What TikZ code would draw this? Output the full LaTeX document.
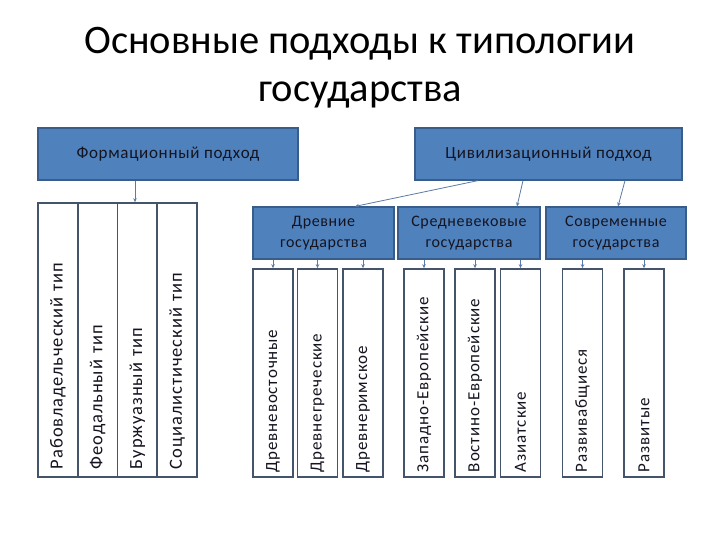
\documentclass[tikz,border=0pt]{standalone}
\usepackage{fontspec}
\setmainfont{Carlito}
\usetikzlibrary{arrows.meta}
\definecolor{boxfill}{HTML}{4F81BD}
\definecolor{boxline}{HTML}{385D8A}
\definecolor{colline}{HTML}{44546A}
\definecolor{arrcol}{HTML}{5B7BA6}
\definecolor{txt}{HTML}{141420}
\tikzset{
  hdr/.style={draw=boxline, line width=1.2pt, fill=boxfill, text=txt, inner sep=2pt,
    font=\fontsize{16}{21}\selectfont\addfontfeatures{LetterSpace=4}, align=center},
  tophdr/.style={hdr, font=\fontsize{17}{21}\selectfont\addfontfeatures{LetterSpace=4}},
  colbox/.style={draw=colline, line width=1.6pt, fill=white, rotate=90, text=txt,
    inner xsep=5pt, align=left,
    font=\fontsize{17}{20}\selectfont\addfontfeatures{LetterSpace=5}},
  fcolbox/.style={colbox, inner xsep=8pt,
    font=\fontsize{18.5}{22}\selectfont\addfontfeatures{LetterSpace=5}},
  arr/.style={draw=arrcol, line width=0.8pt, -{Stealth[length=4pt,width=3.5pt]}}
}
\begin{document}
\begin{tikzpicture}[x=1pt,y=-1pt]
\useasboundingbox[fill=white] (0,0) rectangle (720,540);
% title
\node[font=\fontsize{40.5}{48}\selectfont, align=center] (title) at (360,68)
  {Основные подходы к типологии\\государства};
% top headers
\node[tophdr, minimum width=260pt, minimum height=52pt] (form) at (168,154) {\raisebox{-2pt}{Формационный подход}};
\node[tophdr, minimum width=267pt, minimum height=52pt] (civ) at (548.5,154) {\raisebox{-2pt}{Цивилизационный подход}};
% formation columns (top 203, bottom 477)
\node[fcolbox, minimum width=274pt, minimum height=39.75pt, text width=258pt] (f1) at (57.9,340) {Рабовладельческий тип};
\node[fcolbox, minimum width=274pt, minimum height=39.75pt, text width=258pt] (f2) at (97.6,340) {Феодальный тип};
\node[fcolbox, minimum width=274pt, minimum height=39.75pt, text width=258pt] (f3) at (137.4,340) {Буржуазный тип};
\node[fcolbox, minimum width=274pt, minimum height=39.75pt, text width=258pt] (f4) at (177.1,340) {Социалистический тип};
% group headers
\node[hdr, minimum width=141pt, minimum height=52pt] (anc) at (323.5,233) {Древние\\государства};
\node[hdr, minimum width=142pt, minimum height=52pt] (med) at (469,233) {Средневековые\\государства};
\node[hdr, minimum width=140pt, minimum height=52pt] (mod) at (616,233) {Современные\\государства};
% sub columns (top 269, bottom 477)
\foreach \n/\x/\t in {a1/273/Древневосточные, a2/317.5/Древнегреческие, a3/363/Древнеримское,
  m1/424/Западно-Европейские, m2/475/Востино-Европейские, m3/520.5/Азиатские,
  d1/582.5/Развивабщиеся, d2/644/Развитые}
  \node[colbox, minimum width=208pt, minimum height=40pt, text width=198pt] (\n) at (\x,373) {\t};
% connectors
\draw[arr] ([xshift=-33pt]form.south) -- ([xshift=-2.4pt]f3.east);
\draw[arr] ([xshift=-70.5pt]civ.south) -- ([xshift=31.5pt]anc.north);
\draw[arr] ([xshift=-25.5pt]civ.south) -- ([xshift=48pt]med.north);
\draw[arr] ([xshift=76.5pt]civ.south) -- ([xshift=2pt]mod.north);
\draw[arr] (anc.south -| a1.east) -- (a1.east);
\draw[arr] (anc.south -| a2.east) -- (a2.east);
\draw[arr] (anc.south -| a3.east) -- (a3.east);
\draw[arr] (med.south -| m1.east) -- (m1.east);
\draw[arr] (med.south -| m2.east) -- (m2.east);
\draw[arr] (med.south -| m3.east) -- (m3.east);
\draw[arr] (mod.south -| d1.east) -- (d1.east);
\draw[arr] (mod.south -| d2.east) -- (d2.east);
\end{tikzpicture}
\end{document}
